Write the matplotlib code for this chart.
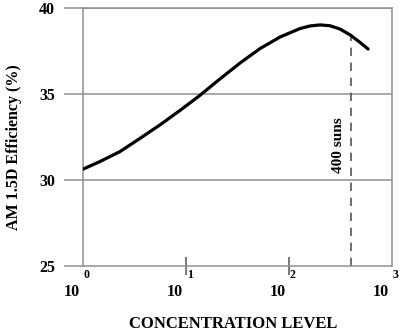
import numpy as np
import matplotlib
matplotlib.use("Agg")
import matplotlib.pyplot as plt
import matplotlib.transforms as mtransforms

plt.rcParams['font.family'] = ['Liberation Serif', 'DejaVu Serif']
plt.rcParams['font.weight'] = 'bold'

# efficiency curve (concentration in suns, AM1.5D efficiency in %)
concentration = [1.0, 1.46, 2.29, 3.59, 5.61, 8.78, 13.7, 21.5, 33.7, 52.7,
                 82.5, 129, 161, 202, 253, 316, 396, 495, 592]
efficiency = [30.62, 31.06, 31.64, 32.41, 33.19, 34.03, 34.90, 35.86, 36.78, 37.62,
              38.29, 38.78, 38.93, 38.99, 38.94, 38.75, 38.41, 37.97, 37.59]

y_ticks = [25, 30, 35, 40]
decades = [0, 1, 2, 3]
peak_suns = 400
peak_label = "400 suns"

grey = '#8f8f8f'

fig = plt.figure(figsize=(4.0, 3.34), dpi=100)
ax = fig.add_axes([0.2075, 0.2036, 0.7713, 0.7739])

ax.plot(concentration, efficiency, color='black', lw=2.3, solid_capstyle='round', zorder=3)

ax.set_xscale('log')
ax.set_xlim(1, 1000)
ax.set_ylim(25, 40)

# horizontal grid lines and frame
for y in y_ticks[1:]:
    ax.axhline(y, color=grey, lw=1.1, zorder=1)
for side in ['left', 'right', 'bottom', 'top']:
    ax.spines[side].set_color(grey)
    ax.spines[side].set_linewidth(1.1)

ax.set_yticks(y_ticks)
ax.set_yticklabels([str(v) for v in y_ticks], fontsize=11.5, fontweight='bold')
ax.tick_params(axis='y', length=14, width=1.1, color=grey, pad=6)

ax.set_xticks([10, 100])
ax.set_xticklabels(['', ''])
ax.xaxis.set_minor_locator(matplotlib.ticker.NullLocator())
ax.tick_params(axis='x', direction='inout', length=13, width=1.1, color='#555555')

# decade labels written as "10" with a raised exponent
trans = mtransforms.blended_transform_factory(ax.transData, ax.transAxes)
for d in decades:
    x = 10 ** d
    t1 = mtransforms.offset_copy(trans, fig=fig, x=-3, y=-26, units='dots')
    ax.text(x, 0, "10", transform=t1, ha='right', va='center', fontsize=11.5, fontweight='bold')
    t2 = mtransforms.offset_copy(trans, fig=fig, x=1, y=-9, units='dots')
    ax.text(x, 0, str(d), transform=t2, ha='left', va='center', fontsize=8.5, fontweight='bold')

# dashed marker at the efficiency peak
line_top = np.interp(np.log10(peak_suns), np.log10(concentration), efficiency)
ax.vlines(peak_suns, 25, line_top, colors='#555555', linestyles=(0, (5, 4)), lw=1.2, zorder=2)
t3 = mtransforms.offset_copy(ax.transData, fig=fig, x=-6, y=0, units='dots')
ax.text(peak_suns, 32.0, peak_label, transform=t3, rotation=90, ha='right', va='center',
        fontsize=11, fontweight='bold')

ax.set_ylabel("AM 1.5D Efficiency (%)", fontsize=11.5, fontweight='bold')
ax.yaxis.set_label_coords(-0.198, 0.458)
fig.text(0.583, 0.006, "CONCENTRATION LEVEL", ha='center', va='bottom', fontsize=12, fontweight='bold')

fig.savefig("out.png", dpi=100, facecolor='white')
